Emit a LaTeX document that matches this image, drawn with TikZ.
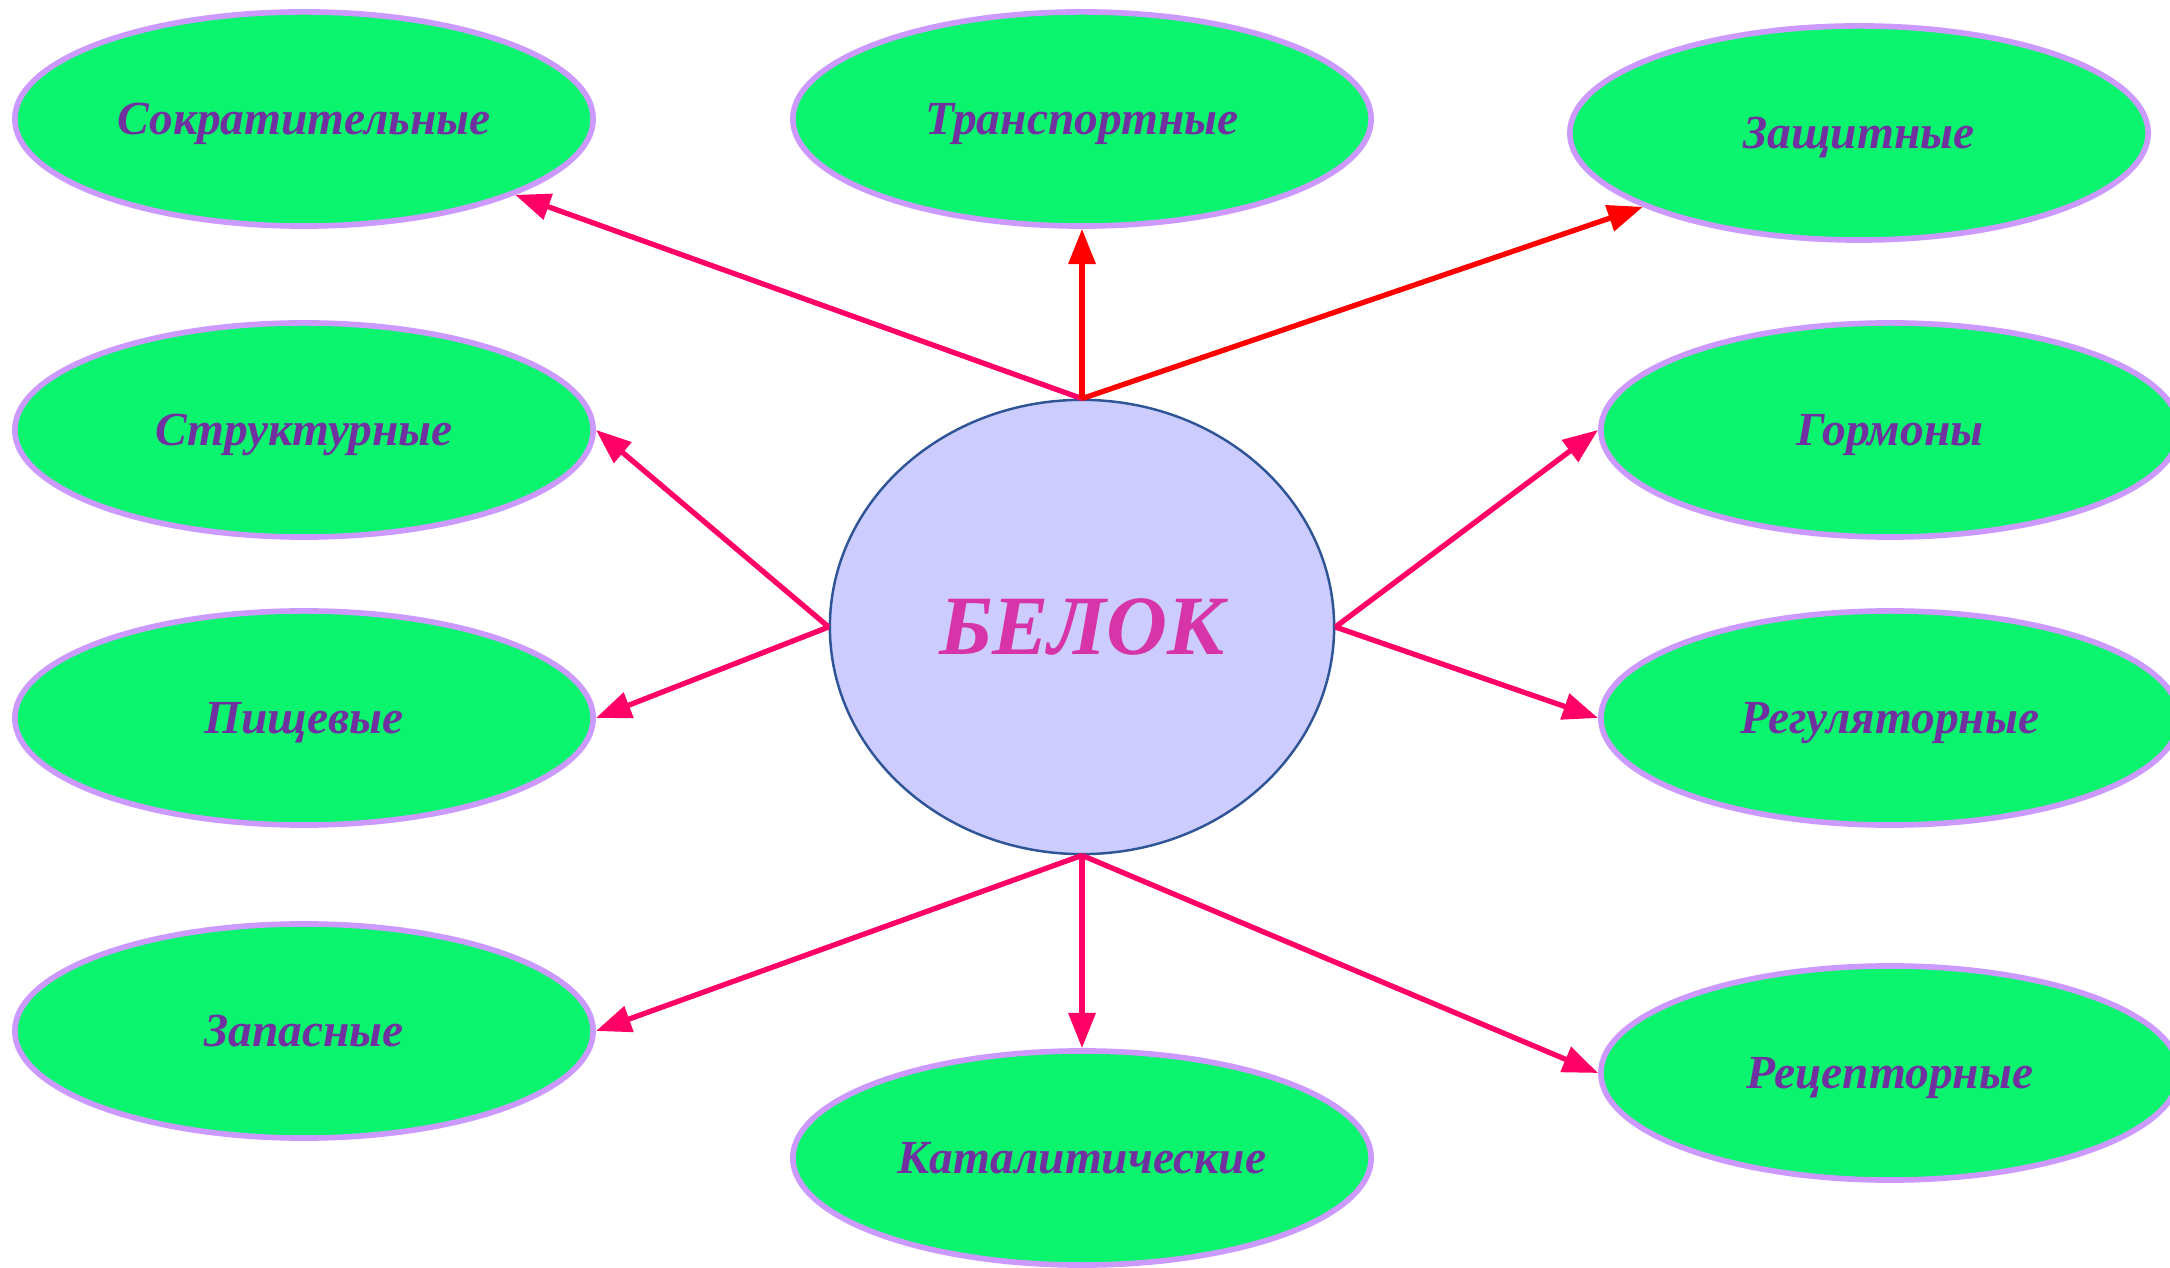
\documentclass[tikz,border=0pt]{standalone}
\usepackage{fontspec}
\setmainfont{Liberation Serif}
\usetikzlibrary{shapes.geometric,arrows.meta}
\definecolor{leafgreen}{RGB}{10,244,110}
\definecolor{leafedge}{RGB}{204,153,255}
\definecolor{leaftext}{RGB}{112,48,160}
\definecolor{corefill}{RGB}{204,204,255}
\definecolor{coreedge}{RGB}{47,85,151}
\definecolor{coretext}{RGB}{214,52,168}
\definecolor{linkpink}{RGB}{255,0,102}
\definecolor{linkred}{RGB}{255,0,0}
\begin{document}
\begin{tikzpicture}[
		x=0.01cm, y=-0.01cm,
		leaf/.style={ellipse, draw=leafedge, line width=1.6pt, fill=leafgreen,
			minimum width=5.78cm, minimum height=2.14cm, inner sep=0pt,
			text=leaftext, text depth=0pt,
			font=\bfseries\itshape\fontsize{13.5}{16}\selectfont},
		core/.style={ellipse, draw=coreedge, line width=0.7pt, fill=corefill,
			minimum width=5.04cm, minimum height=4.54cm, inner sep=0pt,
			text=coretext, font=\bfseries\itshape\fontsize{24}{28}\selectfont},
		link/.style={-{Triangle[length=10pt, width=7.5pt]}, line width=1.5pt, draw=linkpink},
		hot/.style={link, draw=linkred}
		]
		\useasboundingbox (0,0) rectangle (2170,1268);
		% Centre
		\node[core] (belok) at (1082,627) {БЕЛОК};
		% Left column
		\node[leaf] (sokr) at (304,119) {Сократительные};
		\node[leaf] (strukt) at (304,430) {Структурные};
		\node[leaf] (pisch) at (304,718) {Пищевые};
		\node[leaf] (zapas) at (304,1031) {Запасные};
		% Middle column
		\node[leaf] (trans) at (1082,119) {Транспортные};
		\node[leaf] (katal) at (1082,1158) {Каталитические};
		% Right column
		\node[leaf] (zasch) at (1859,133) {Защитные};
		\node[leaf] (gorm) at (1890,430) {Гормоны};
		\node[leaf] (regul) at (1890,718) {Регуляторные};
		\node[leaf] (recep) at (1890,1073) {Рецепторные};
		% Arrows from the top
		\draw[link] (belok.north) -- (sokr);
		\draw[hot] (belok.north) -- (trans.south);
		\draw[hot] (belok.north) -- (zasch);
		% Arrows from the sides
		\draw[link] (belok.west) -- (strukt.east);
		\draw[link] (belok.west) -- (pisch.east);
		\draw[link] (belok.east) -- (gorm.west);
		\draw[link] (belok.east) -- (regul.west);
		% Arrows from the bottom
		\draw[link] (belok.south) -- (zapas.east);
		\draw[link] (belok.south) -- (katal.north);
		\draw[link] (belok.south) -- (recep.west);
	\end{tikzpicture}
\end{document}
